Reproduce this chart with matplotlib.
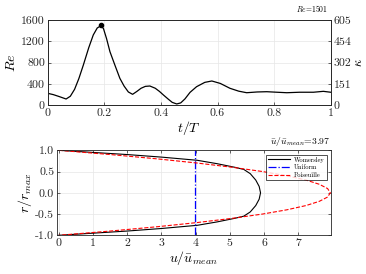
import matplotlib
matplotlib.use("Agg")
import matplotlib.pyplot as plt

plt.rcParams['font.family'] = ['cmr10', 'DejaVu Serif']
plt.rcParams['mathtext.fontset'] = 'cm'
plt.rcParams['axes.unicode_minus'] = False

# top panel: Reynolds number over one cycle
t_T = [0.0, 0.02, 0.04, 0.065, 0.08, 0.095, 0.11, 0.126, 0.145, 0.161, 0.175,
       0.188, 0.197, 0.208, 0.220, 0.237, 0.255, 0.270, 0.285, 0.300, 0.315,
       0.330, 0.345, 0.361, 0.380, 0.395, 0.409, 0.425, 0.440, 0.456, 0.470,
       0.485, 0.503, 0.526, 0.555, 0.580, 0.610, 0.644, 0.675, 0.703, 0.740,
       0.774, 0.810, 0.845, 0.890, 0.939, 0.974, 1.0]
Re = [225, 200, 165, 118, 170, 300, 500, 756, 1080, 1319, 1450,
      1493, 1440, 1250, 1005, 760, 506, 360, 250, 206, 260,
      320, 355, 362, 320, 260, 193, 120, 55, 25, 45,
      120, 243, 349, 430, 456, 410, 319, 265, 236, 250,
      255, 245, 236, 245, 245, 262, 245]
Re_peak_t = 0.188
Re_peak = 1501
kappa_ticks = [0, 151, 302, 454, 605]

# bottom panel: velocity profiles
r_w = [1.0, 0.95, 0.90, 0.84, 0.79, 0.765, 0.685, 0.60, 0.55, 0.45, 0.30, 0.15, 0.0,
       -0.15, -0.30, -0.45, -0.55, -0.60, -0.685, -0.765, -0.79, -0.84, -0.90, -0.95, -1.0]
u_w = [0.0, 1.0, 2.0, 3.0, 3.7, 4.05, 4.63, 5.15, 5.41, 5.60, 5.76, 5.86, 5.90,
       5.86, 5.76, 5.60, 5.41, 5.15, 4.63, 4.05, 3.7, 3.0, 2.0, 1.0, 0.0]
r_p = [1.0, 0.9, 0.8, 0.7, 0.6, 0.5, 0.4, 0.3, 0.2, 0.1, 0.0,
       -0.1, -0.2, -0.3, -0.4, -0.5, -0.6, -0.7, -0.8, -0.9, -1.0]
u_p = [0.0, 1.51, 2.86, 4.05, 5.08, 5.96, 6.67, 7.23, 7.62, 7.86, 7.94,
       7.86, 7.62, 7.23, 6.67, 5.96, 5.08, 4.05, 2.86, 1.51, 0.0]
u_uniform = 3.97

fig = plt.figure(figsize=(3.66, 2.74), dpi=100)

# ---- top
ax1 = fig.add_axes([47.7/366, 1 - 105.3/274, 283/366, 85.3/274])
ax1.plot(t_T, Re, color='black', lw=0.9)
ax1.plot(Re_peak_t, Re_peak, 'o', color='black', ms=3)
ax1.set_xlim(0, 1)
ax1.set_ylim(0, 1600)
ax1.set_xticks([0, 0.2, 0.4, 0.6, 0.8, 1])
ax1.set_xticklabels(['0', '0.2', '0.4', '0.6', '0.8', '1'])
ax1.set_yticks([0, 400, 800, 1200, 1600])
ax1.set_xlabel(r'$t/T$', fontsize=10, labelpad=1)
ax1.set_ylabel(r'$Re$', fontsize=10, labelpad=2)
ax1.grid(True, color='#e6e6e6', lw=0.5)
ax1.text(0.99, 1.07, r'$Re$=1501', transform=ax1.transAxes, ha='right', va='bottom', fontsize=5.5)

ax1b = ax1.twinx()
ax1b.set_ylim(0, 605)
ax1b.set_yticks(kappa_ticks)
ax1b.set_ylabel(r'$\kappa$', fontsize=9, labelpad=1)

# ---- bottom
ax2 = fig.add_axes([57/366, 1 - 235.3/274, 274/366, 85/274])
ax2.plot(u_w, r_w, color='black', lw=0.8, label='Womersley')
ax2.axvline(u_uniform, color='#0000ff', lw=0.9, ls='-.', label='Uniform')
ax2.plot(u_p, r_p, color='red', lw=0.8, ls='--', label='Poiseuille')
ax2.set_xlim(-0.05, 7.96)
ax2.set_ylim(-1, 1)
ax2.set_xticks(range(8))
ax2.set_yticks([1.0, 0.5, 0.0, -0.5, -1.0])
ax2.set_yticklabels(['1.0', '0.5', '0.0', '-0.5', '-1.0'])
ax2.set_xlabel(r'$u/\bar{u}_{mean}$', fontsize=10, labelpad=1)
ax2.set_ylabel(r'$r/r_{max}$', fontsize=10, labelpad=1)
ax2.grid(True, color='#e6e6e6', lw=0.5)
ax2.text(1.0, 1.03, r'$\bar{u}/\bar{u}_{mean}$=3.97', transform=ax2.transAxes,
         ha='right', va='bottom', fontsize=7)
leg = ax2.legend(loc='upper right', fontsize=4.6, frameon=True, fancybox=False,
                 borderpad=0.3, handlelength=3.4, labelspacing=0.3, borderaxespad=0.7,
                 handletextpad=0.6)
leg.get_frame().set_edgecolor('black')
leg.get_frame().set_linewidth(0.6)

for ax in (ax1, ax1b, ax2):
    ax.tick_params(direction='in', labelsize=8.5, length=2.5, width=0.5, colors='#262626', pad=2)
    for s in ax.spines.values():
        s.set_color('#262626')
        s.set_linewidth(0.6)
ax1b.tick_params(right=True, left=False)
ax1.tick_params(top=False)
ax2.tick_params(top=True, right=True)

fig.savefig('out.png', dpi=100)
